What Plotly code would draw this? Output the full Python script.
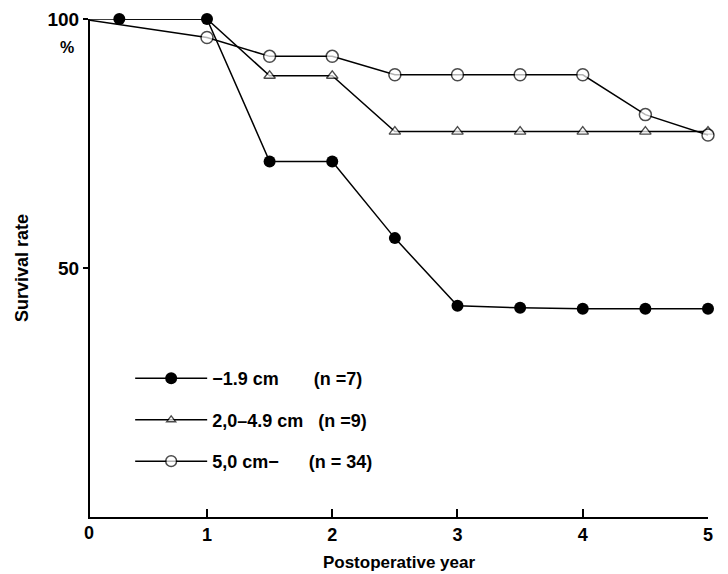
import plotly.graph_objects as go

# ---- data ----
years_filled = [0.3, 1, 1.5, 2, 2.5, 3, 3.5, 4, 4.5, 5]
surv_filled = [100, 100, 71.4, 71.4, 56.0, 42.4, 42.0, 41.8, 41.8, 41.8]

years_tri = [0, 1, 1.5, 2, 2.5, 3, 3.5, 4, 4.5, 5]
surv_tri = [100, 100, 88.6, 88.6, 77.4, 77.4, 77.4, 77.4, 77.4, 77.4]

years_open = [0, 1, 1.5, 2, 2.5, 3, 3.5, 4, 4.5, 5]
surv_open = [100, 96.3, 92.5, 92.5, 88.8, 88.8, 88.8, 88.8, 80.8, 76.7]

NB = "\u00a0"
names = ["\u22121.9 cm" + NB * 7 + "(n =7)",
         "2,0\u20134.9 cm" + NB * 3 + "(n =9)",
         "5,0 cm\u2212" + NB * 6 + "(n = 34)"]

x_ticks = [1, 2, 3, 4, 5]
y_ticks = [50, 100]
y_ticklabels = ["50", "100"]

FONT = "Liberation Sans"
X0 = 0.066  # position of the drawn y-axis line in data units

fig = go.Figure()

fig.add_trace(go.Scatter(
    x=years_filled, y=surv_filled, mode="lines+markers", name=names[0],
    legendgroup="a",
    line=dict(color="black", width=1.5),
    marker=dict(symbol="circle", size=12, color="black"),
    cliponaxis=False))

fig.add_trace(go.Scatter(
    x=years_tri, y=surv_tri, mode="lines+markers", name=names[1],
    legendgroup="b",
    line=dict(color="black", width=1.5),
    marker=dict(symbol="triangle-up", size=[0, 0] + [10] * (len(years_tri) - 2),
                color="white", line=dict(color="black", width=1.3)),
    cliponaxis=False))

fig.add_trace(go.Scatter(
    x=years_open, y=surv_open, mode="lines+markers", name=names[2],
    legendgroup="c",
    line=dict(color="black", width=1.5),
    marker=dict(symbol="circle", size=[0] + [12] * (len(years_open) - 1),
                color="white", line=dict(color="black", width=1.5)),
    cliponaxis=False))

fig.update_layout(
    width=728, height=574,
    margin=dict(l=90, r=20, t=19, b=57),
    plot_bgcolor="white", paper_bgcolor="white",
    font=dict(family=FONT, size=17, color="black", weight="bold"),
    showlegend=True,
    legend=dict(x=0.065, y=0.315, xanchor="left", yanchor="top",
                bgcolor="rgba(0,0,0,0)", tracegroupgap=15,
                font=dict(size=18, family=FONT, weight="bold"),
                itemwidth=72),
    xaxis=dict(range=[X0, 5], showline=True, linecolor="black", linewidth=2,
               showgrid=False, zeroline=False, tickmode="array", tickvals=x_ticks,
               ticks="inside", ticklen=8, tickwidth=1.5, tickcolor="black",
               automargin=False,
               tickfont=dict(size=18, family=FONT, weight="bold"),
               title=dict(text="Postoperative year", standoff=13,
                          font=dict(size=17, family=FONT, weight="bold"))),
    yaxis=dict(range=[0, 100], showline=True, linecolor="black", linewidth=2,
               showgrid=False, zeroline=False, tickmode="array", tickvals=y_ticks,
               ticktext=y_ticklabels, ticks="outside", ticklen=5, tickwidth=1.5,
               tickcolor="black", automargin=False,
               tickfont=dict(size=19, family=FONT, weight="bold"),
               title=dict(text="Survival rate", standoff=14,
                          font=dict(size=18, family=FONT, weight="bold"))),
)

fig.add_annotation(x=(0 - X0) / (5 - X0), y=0, xref="paper", yref="paper",
                   text="0", showarrow=False, yanchor="top", yshift=-4,
                   font=dict(size=18, family=FONT, weight="bold"))
fig.add_annotation(x=0, y=1, xref="paper", yref="paper", text="%", showarrow=False,
                   xanchor="right", xshift=-14, yshift=-18,
                   font=dict(size=16, family=FONT, weight="bold"))

fig.write_html("out.html")
